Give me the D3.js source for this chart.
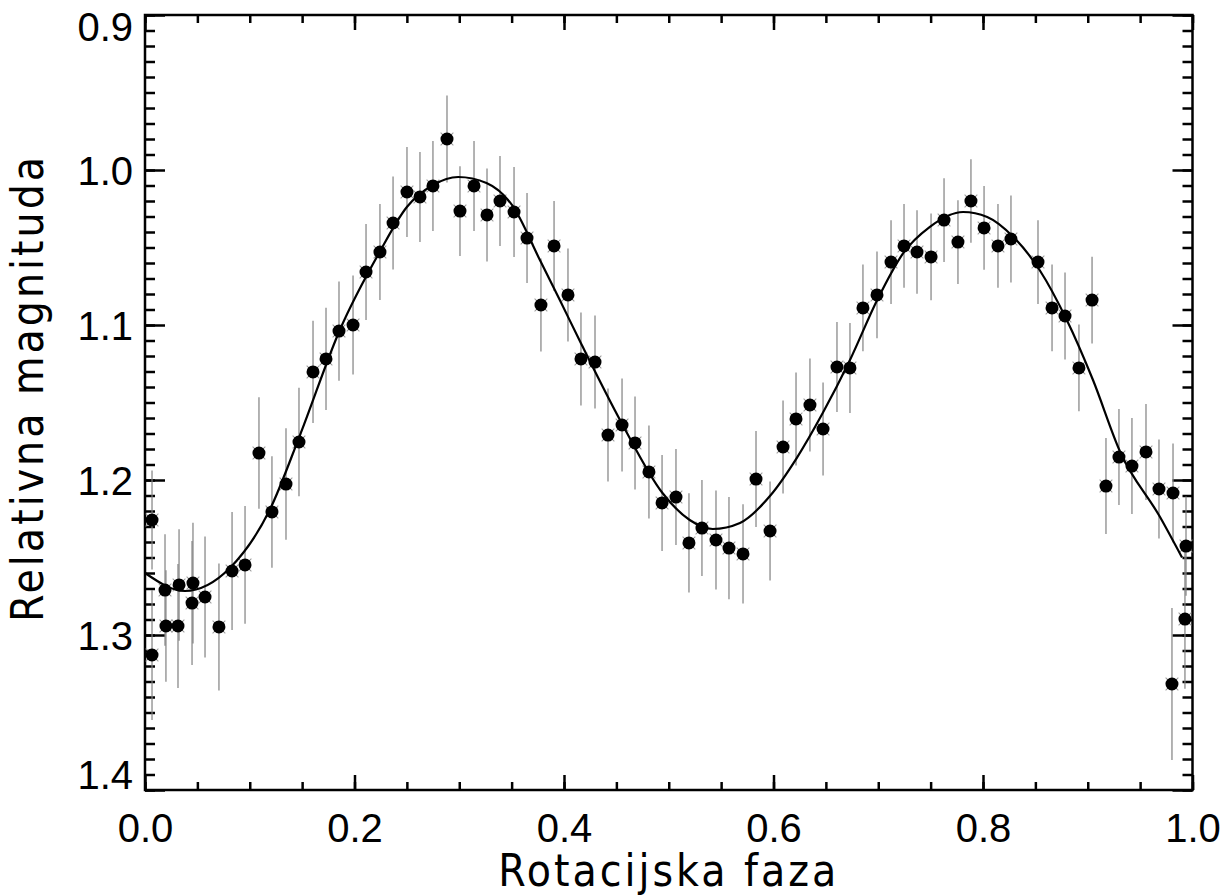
<!DOCTYPE html>
<html>
<meta charset="utf-8">
<head>
  <title>Rotacijska faza - relativna magnituda</title>
</head>

<style>
body { margin: 0; background: white; }
.tick text {
  font-family: "Liberation Sans", Helvetica, Arial, sans-serif;
  font-size: 40px;
  fill: black;
}
.title {
  font-family: "DejaVu Sans Condensed", "DejaVu Sans", sans-serif;
  font-stretch: condensed;
  font-size: 44px;
  letter-spacing: 3px;
  fill: black;
  text-anchor: middle;
}
</style>

<body>
  <div id="chart"></div>

  <script src="https://d3js.org/d3.v7.min.js"></script>
  <script>

// measured points: phase, magnitude, error
var phase = [0.0067, 0.0067, 0.0191, 0.0200, 0.0315, 0.0325, 0.0449, 0.0458, 0.0573, 0.0706,
  0.0831, 0.0955, 0.1088, 0.1212, 0.1346, 0.1470, 0.1604, 0.1728, 0.1852, 0.1986,
  0.2110, 0.2243, 0.2368, 0.2501, 0.2625, 0.2749, 0.2883, 0.3007, 0.3141, 0.3265,
  0.3389, 0.3523, 0.3647, 0.3780, 0.3905, 0.4038, 0.4162, 0.4296, 0.4420, 0.4554,
  0.4678, 0.4811, 0.4936, 0.5069, 0.5193, 0.5317, 0.5451, 0.5575, 0.5709, 0.5833,
  0.5967, 0.6091, 0.6215, 0.6348, 0.6473, 0.6606, 0.6730, 0.6854, 0.6988, 0.7122,
  0.7246, 0.7370, 0.7504, 0.7628, 0.7761, 0.7885, 0.8010, 0.8143, 0.8267, 0.8525,
  0.8659, 0.8783, 0.8916, 0.9041, 0.9174, 0.9298, 0.9422, 0.9556, 0.9680, 0.9814,
  0.9938, 0.9928, 0.9804];

var magnitude = [1.2258, 1.3129, 1.2710, 1.2942, 1.2942, 1.2677, 1.2794, 1.2665, 1.2755, 1.2948,
  1.2587, 1.2548, 1.1826, 1.2206, 1.2026, 1.1755, 1.1303, 1.1219, 1.1039, 1.1000,
  1.0658, 1.0529, 1.0342, 1.0142, 1.0174, 1.0103, 0.9800, 1.0265, 1.0103, 1.0290,
  1.0200, 1.0271, 1.0439, 1.0871, 1.0490, 1.0806, 1.1219, 1.1239, 1.1710, 1.1645,
  1.1761, 1.1948, 1.2148, 1.2110, 1.2406, 1.2310, 1.2387, 1.2439, 1.2477, 1.1994,
  1.2329, 1.1787, 1.1606, 1.1516, 1.1671, 1.1271, 1.1277, 1.0890, 1.0806, 1.0594,
  1.0490, 1.0529, 1.0561, 1.0323, 1.0465, 1.0200, 1.0374, 1.0490, 1.0445, 1.0594,
  1.0890, 1.0942, 1.1277, 1.0839, 1.2039, 1.1852, 1.1910, 1.1819, 1.2058, 1.2084,
  1.2426, 1.2897, 1.3316];

var error = [0.032, 0.042, 0.036, 0.036, 0.040, 0.036, 0.040, 0.039, 0.039, 0.041,
  0.038, 0.038, 0.036, 0.036, 0.036, 0.035, 0.033, 0.033, 0.032, 0.032,
  0.031, 0.031, 0.030, 0.029, 0.029, 0.029, 0.028, 0.029, 0.029, 0.030,
  0.029, 0.029, 0.029, 0.030, 0.029, 0.030, 0.030, 0.030, 0.030, 0.030,
  0.030, 0.030, 0.031, 0.031, 0.032, 0.031, 0.032, 0.033, 0.032, 0.031,
  0.032, 0.030, 0.030, 0.030, 0.030, 0.029, 0.029, 0.028, 0.028, 0.027,
  0.027, 0.027, 0.028, 0.027, 0.027, 0.027, 0.027, 0.027, 0.028, 0.027,
  0.028, 0.028, 0.028, 0.028, 0.031, 0.031, 0.031, 0.031, 0.032, 0.032,
  0.032, 0.045, 0.049];

// fitted light curve
var fitPhase = [0.000, 0.038, 0.081, 0.119, 0.148, 0.186, 0.224, 0.250, 0.275, 0.299,
  0.326, 0.351, 0.377, 0.396, 0.417, 0.455, 0.494, 0.520, 0.542, 0.568,
  0.597, 0.622, 0.647, 0.673, 0.699, 0.724, 0.749, 0.781, 0.804, 0.829,
  0.854, 0.880, 0.905, 0.931, 0.969, 0.990];
var fitMag = [1.2600, 1.2716, 1.2568, 1.2194, 1.1710, 1.1032, 1.0529, 1.0239, 1.0097, 1.0045,
  1.0084, 1.0232, 1.0581, 1.0839, 1.1129, 1.1632, 1.2084, 1.2258, 1.2316, 1.2277,
  1.2100, 1.1860, 1.1568, 1.1226, 1.0839, 1.0535, 1.0368, 1.0271, 1.0303, 1.0432,
  1.0645, 1.0968, 1.1355, 1.1819, 1.2239, 1.2500];

var xMajor = [0.0, 0.2, 0.4, 0.6, 0.8, 1.0];
var xMinor = d3.range(0, 21).map(function(i) { return i * 0.05; });
var yMajor = [0.9, 1.0, 1.1, 1.2, 1.3, 1.4];
var yMinor = d3.range(0, 51).map(function(i) { return 0.9 + i * 0.01; });

var W = 1232, H = 895;
var margin = {left: 145, right: 1192.5, top: 15, bottom: 790};

var svg = d3.select('#chart')
  .append('svg')
  .attr('width', W)
  .attr('height', H);

var x = d3.scaleLinear().domain([0, 1]).range([margin.left, margin.right]);
var y = d3.scaleLinear().domain([0.9, 1.4]).range([margin.top, margin.bottom]);

var fmt = d3.format('.1f');

// minor ticks, all four sides, pointing inward
svg.append('g')
  .attr('transform', `translate(0,${margin.bottom})`)
  .call(d3.axisBottom(x).tickValues(xMinor).tickSize(-8).tickFormat(''));
svg.append('g')
  .attr('transform', `translate(0,${margin.top})`)
  .call(d3.axisTop(x).tickValues(xMinor).tickSize(-8).tickFormat(''));
svg.append('g')
  .attr('transform', `translate(${margin.left},0)`)
  .call(d3.axisLeft(y).tickValues(yMinor).tickSize(-10).tickFormat(''));
svg.append('g')
  .attr('transform', `translate(${margin.right},0)`)
  .call(d3.axisRight(y).tickValues(yMinor).tickSize(-10).tickFormat(''));

// major ticks
svg.append('g')
  .attr('transform', `translate(0,${margin.bottom})`)
  .call(d3.axisBottom(x).tickValues(xMajor).tickSize(-15).tickPadding(24).tickFormat(fmt));
svg.append('g')
  .attr('transform', `translate(0,${margin.top})`)
  .call(d3.axisTop(x).tickValues(xMajor).tickSize(-15).tickFormat(''));
var yAxis = svg.append('g')
  .attr('transform', `translate(${margin.left},0)`)
  .call(d3.axisLeft(y).tickValues(yMajor).tickSize(-20).tickPadding(12).tickFormat(fmt));
svg.append('g')
  .attr('transform', `translate(${margin.right},0)`)
  .call(d3.axisRight(y).tickValues(yMajor).tickSize(-20).tickFormat(''));

svg.selectAll('.domain').remove();
svg.selectAll('.tick line').attr('stroke', 'black').attr('stroke-width', 2.5);

// end labels are kept inside the axis range
yAxis.selectAll('.tick text')
  .attr('dy', function(d) {
    if (d === 0.9) return '0.64em';
    if (d === 1.4) return '-0.03em';
    return '0.36em';
  });

// frame
svg.append('rect')
  .attr('x', margin.left)
  .attr('y', margin.top)
  .attr('width', margin.right - margin.left)
  .attr('height', margin.bottom - margin.top)
  .attr('fill', 'none')
  .attr('stroke', 'black')
  .attr('stroke-width', 2.5);

var points = phase.map(function(p, i) {
  return {p: p, m: magnitude[i], e: error[i]};
});

var plot = svg.append('g');

// error bars
plot.selectAll('line.err')
  .data(points)
  .enter()
  .append('line')
  .attr('class', 'err')
  .attr('x1', function(d) { return x(d.p); })
  .attr('x2', function(d) { return x(d.p); })
  .attr('y1', function(d) { return y(d.m - d.e); })
  .attr('y2', function(d) { return y(d.m + d.e); })
  .attr('stroke', '#808080')
  .attr('stroke-width', 1.2);

// small grey crosses behind the dots
plot.selectAll('path.cross')
  .data(points)
  .enter()
  .append('path')
  .attr('class', 'cross')
  .attr('transform', function(d) { return `translate(${x(d.p)},${y(d.m)}) rotate(45)`; })
  .attr('d', 'M-9,0H9M0,-9V9')
  .attr('stroke', '#9a9a9a')
  .attr('stroke-width', 1);

// fitted curve
var line = d3.line()
  .x(function(d) { return x(d[0]); })
  .y(function(d) { return y(d[1]); })
  .curve(d3.curveMonotoneX);

plot.append('path')
  .datum(fitPhase.map(function(p, i) { return [p, fitMag[i]]; }))
  .attr('d', line)
  .attr('fill', 'none')
  .attr('stroke', 'black')
  .attr('stroke-width', 2.2);

// dots
plot.selectAll('circle')
  .data(points)
  .enter()
  .append('circle')
  .attr('cx', function(d) { return x(d.p); })
  .attr('cy', function(d) { return y(d.m); })
  .attr('r', 6.5)
  .attr('fill', 'black');

// axis titles
svg.append('text')
  .attr('class', 'title')
  .attr('x', (margin.left + margin.right) / 2)
  .attr('y', 886)
  .text('Rotacijska faza');

svg.append('text')
  .attr('class', 'title')
  .attr('transform', 'translate(43,388) rotate(-90)')
  .text('Relativna magnituda');

  </script>
</body>
</html>
